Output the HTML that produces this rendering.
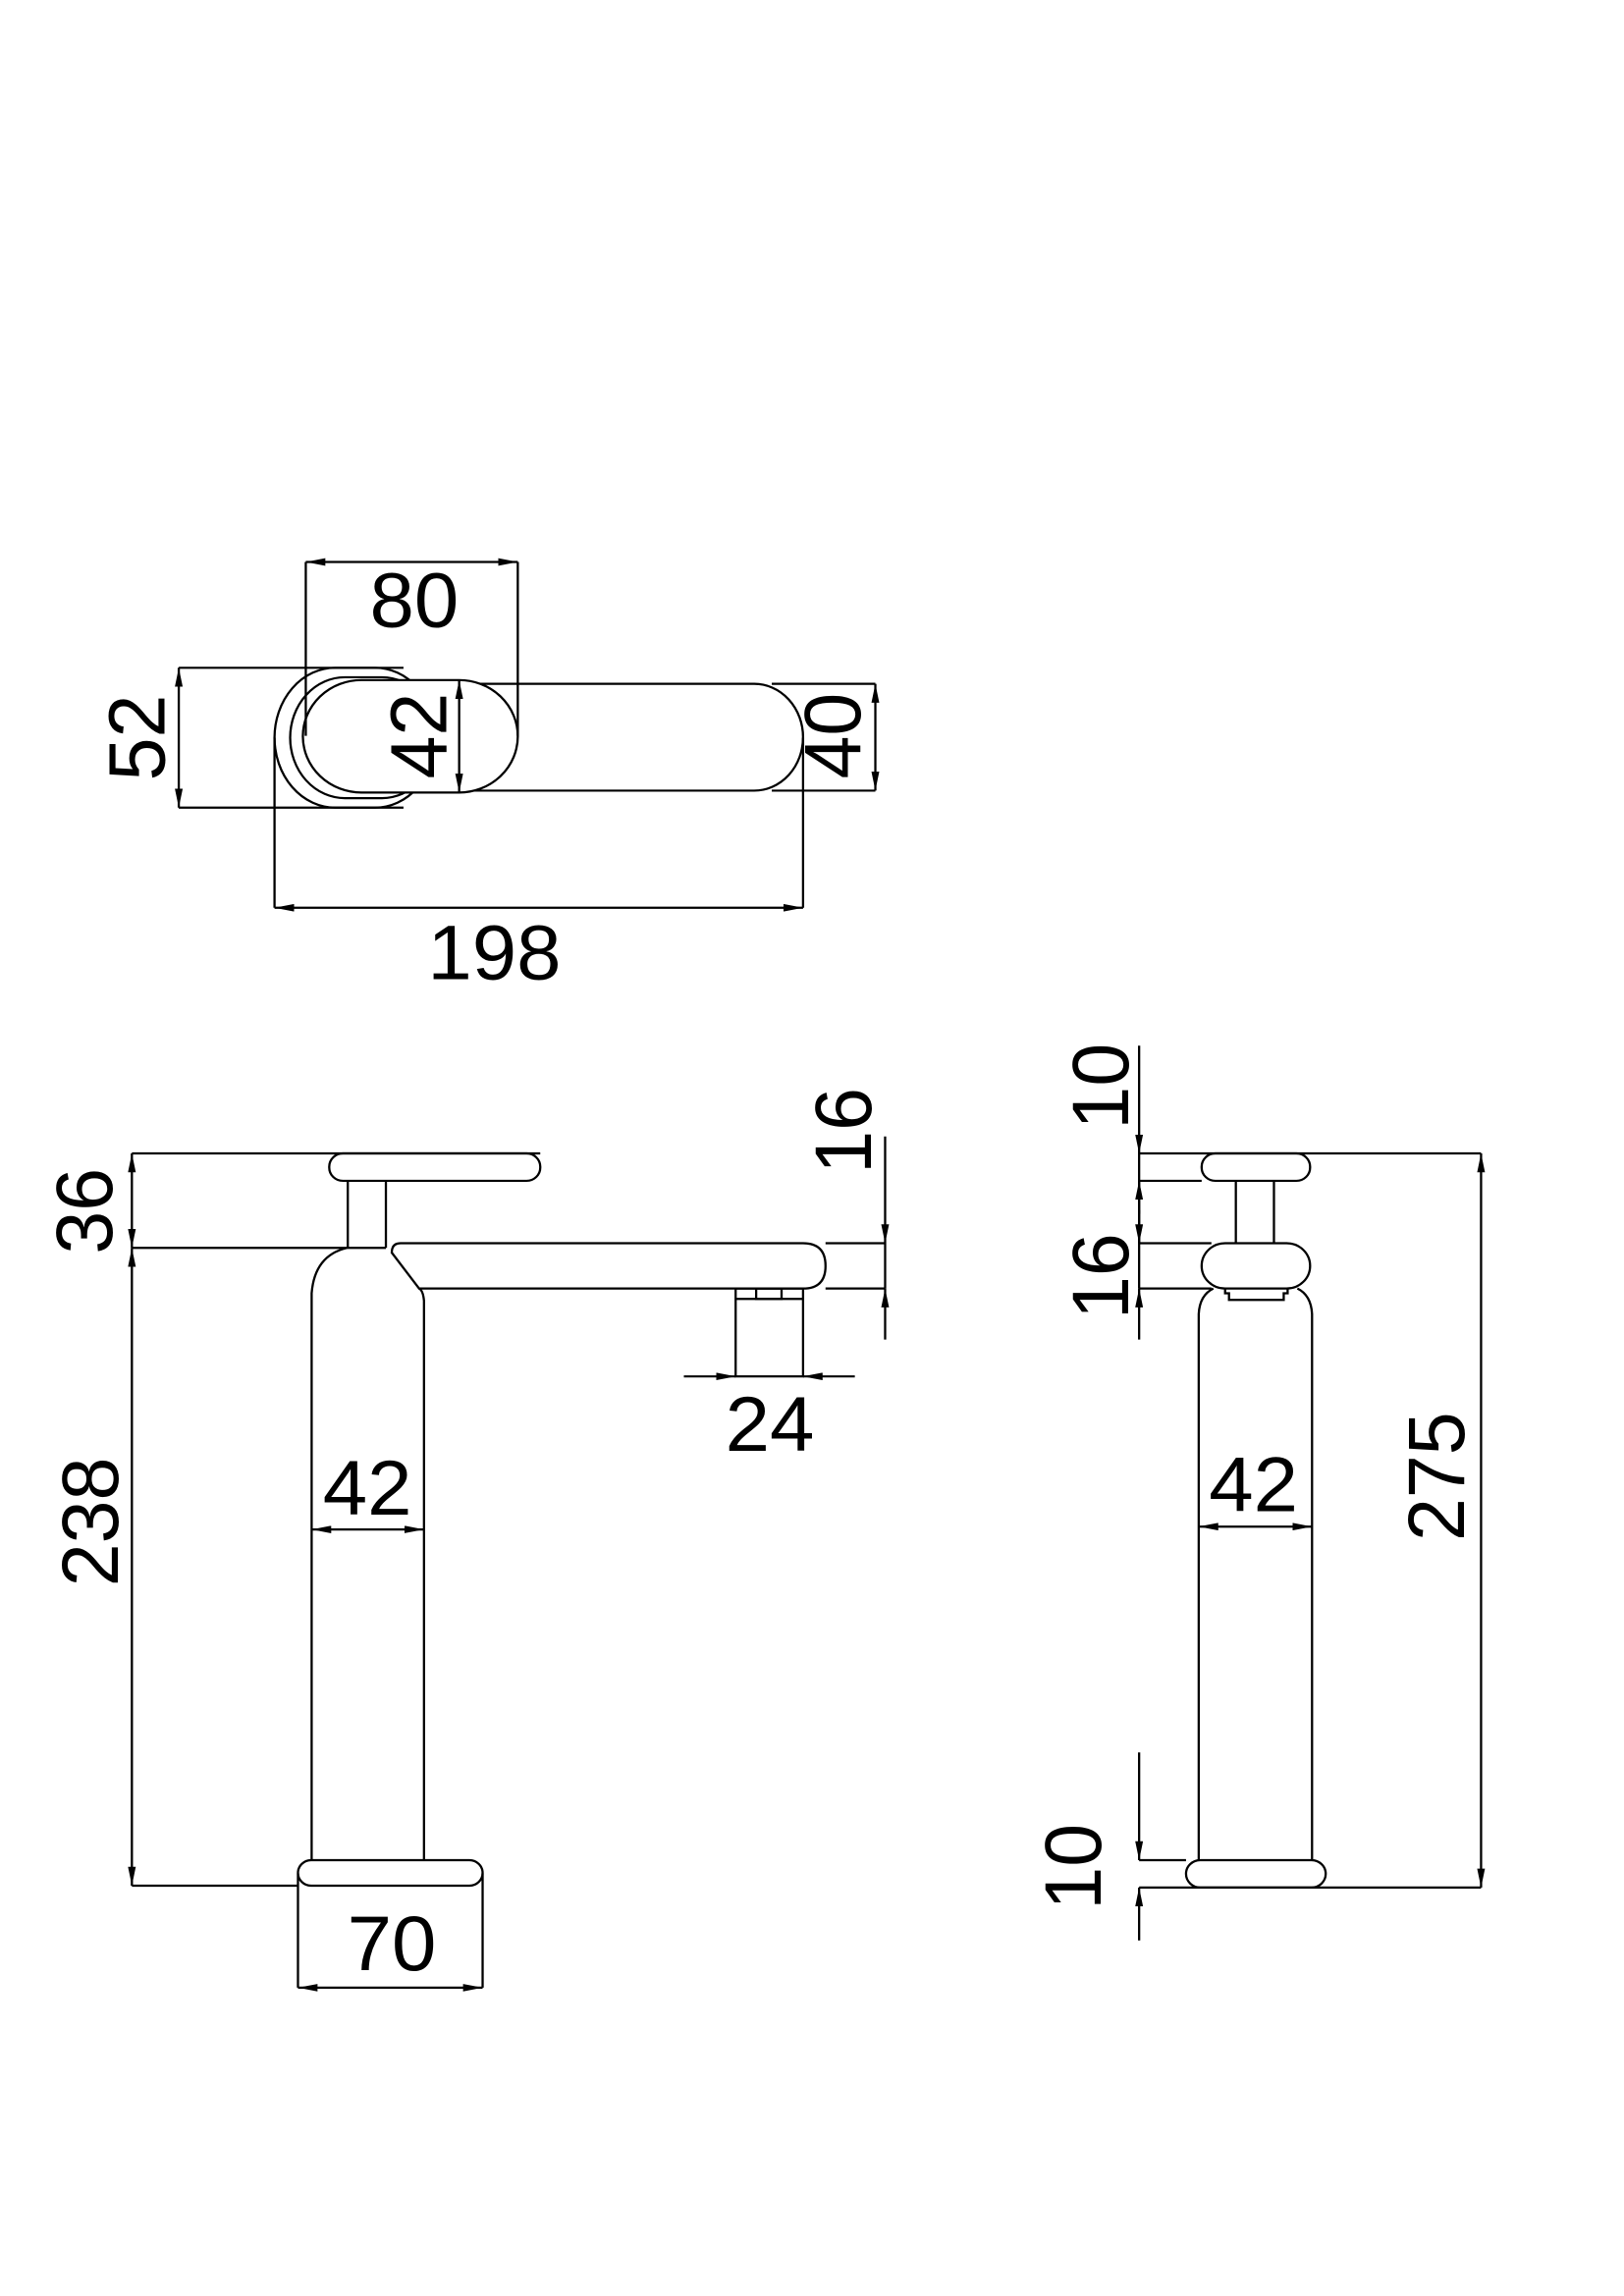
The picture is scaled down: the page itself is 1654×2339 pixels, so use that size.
<!DOCTYPE html>
<html><head><meta charset="utf-8"><style>html,body{margin:0;padding:0;background:#fff}svg{display:block}</style></head>
<body>
<svg width="1654" height="2339" viewBox="0 0 1654 2339" xmlns="http://www.w3.org/2000/svg">
<defs>
<marker id="a" viewBox="0 0 20 8" refX="20" refY="4" markerWidth="20" markerHeight="8" markerUnits="userSpaceOnUse" orient="auto-start-reverse"><path d="M0,0 L20,4 L0,8 Z" fill="#000"/></marker>
</defs>
<g transform="matrix(0.995,0,0,0.9625,0,18.1)">
<g fill="none" stroke="#000" stroke-width="2.3">
<rect x="281" y="688" width="165" height="148" rx="62" ry="74" fill="#fff"/>
<rect x="297" y="698" width="150" height="128" rx="56" ry="64" fill="#fff"/>
<rect x="420" y="705" width="402" height="113" rx="50" ry="56.5" fill="#fff"/>
<rect x="310" y="701" width="220" height="119" rx="60" ry="59.5" fill="#fff"/>
<line x1="313" y1="576" x2="313" y2="760"/><line x1="530" y1="576" x2="530" y2="760"/>
<line x1="313" y1="576" x2="530" y2="576" marker-start="url(#a)" marker-end="url(#a)"/>
<line x1="183" y1="688" x2="413" y2="688"/><line x1="183" y1="836" x2="413" y2="836"/>
<line x1="183" y1="688" x2="183" y2="836" marker-start="url(#a)" marker-end="url(#a)"/>
<line x1="470" y1="701" x2="470" y2="820" marker-start="url(#a)" marker-end="url(#a)"/>
<line x1="790" y1="705" x2="896" y2="705"/><line x1="790" y1="818" x2="896" y2="818"/>
<line x1="896" y1="705" x2="896" y2="818" marker-start="url(#a)" marker-end="url(#a)"/>
<line x1="281" y1="762" x2="281" y2="942"/><line x1="822" y1="762" x2="822" y2="942"/>
<line x1="281" y1="942" x2="822" y2="942" marker-start="url(#a)" marker-end="url(#a)"/>

<rect x="337" y="1202" width="216" height="29" rx="14" fill="#fff"/>
<line x1="356" y1="1231" x2="356" y2="1302"/><line x1="395" y1="1231" x2="395" y2="1302"/>
<path d="M355,1302 Q322,1310 319,1350 L319,1950"/>
<path d="M434,1950 L434,1358 Q433,1347 429,1345"/>
<path d="M410,1297 L822,1297 Q845,1297 845,1321 Q845,1345 822,1345 L429,1345 L401,1307 Q401,1297 410,1297 Z" fill="#fff"/>
<line x1="845" y1="1297" x2="906" y2="1297"/><line x1="845" y1="1345" x2="906" y2="1345"/>
<rect x="753" y="1345" width="69" height="93"/>
<line x1="753" y1="1356" x2="822" y2="1356"/>
<rect x="774" y="1345" width="26" height="11"/>
<rect x="305" y="1950" width="189" height="27" rx="13.5" fill="#fff"/>
<line x1="135" y1="1202" x2="553" y2="1202"/>
<line x1="135" y1="1302" x2="395" y2="1302"/>
<line x1="135" y1="1977" x2="305" y2="1977"/>
<line x1="135" y1="1202" x2="135" y2="1302" marker-start="url(#a)" marker-end="url(#a)"/>
<line x1="135" y1="1302" x2="135" y2="1977" marker-start="url(#a)" marker-end="url(#a)"/>
<line x1="906" y1="1184" x2="906" y2="1297" marker-end="url(#a)"/>
<line x1="906" y1="1399" x2="906" y2="1345" marker-end="url(#a)"/>
<line x1="906" y1="1297" x2="906" y2="1345"/>
<line x1="700" y1="1438" x2="753" y2="1438" marker-end="url(#a)"/>
<line x1="875" y1="1438" x2="822" y2="1438" marker-end="url(#a)"/>
<line x1="319" y1="1600" x2="434" y2="1600" marker-start="url(#a)" marker-end="url(#a)"/>
<line x1="305" y1="1964" x2="305" y2="2085"/><line x1="494" y1="1964" x2="494" y2="2085"/>
<line x1="305" y1="2085" x2="494" y2="2085" marker-start="url(#a)" marker-end="url(#a)"/>

<rect x="1230" y="1202" width="111" height="29" rx="14" fill="#fff"/>
<line x1="1265" y1="1231" x2="1265" y2="1297"/><line x1="1304" y1="1231" x2="1304" y2="1297"/>
<path d="M1227,1950 L1227,1372 Q1228,1352 1242,1345"/>
<path d="M1343,1950 L1343,1372 Q1342,1352 1328,1345"/>
<rect x="1230" y="1297" width="111" height="48" rx="24" fill="#fff"/>
<path d="M1254,1345 L1254,1350 L1258,1350 L1258,1357 L1314,1357 L1314,1350 L1318,1350 L1318,1345"/>
<rect x="1214" y="1950" width="143" height="29" rx="14.5" fill="#fff"/>
<line x1="1166" y1="1202" x2="1516" y2="1202"/>
<line x1="1166" y1="1231" x2="1230" y2="1231"/>
<line x1="1166" y1="1297" x2="1240" y2="1297"/>
<line x1="1166" y1="1345" x2="1240" y2="1345"/>
<line x1="1166" y1="1950" x2="1214" y2="1950"/>
<line x1="1166" y1="1979" x2="1516" y2="1979"/>
<line x1="1166" y1="1088" x2="1166" y2="1202" marker-end="url(#a)"/>
<line x1="1166" y1="1266" x2="1166" y2="1231" marker-end="url(#a)"/>
<line x1="1166" y1="1262" x2="1166" y2="1297" marker-end="url(#a)"/>
<line x1="1166" y1="1399" x2="1166" y2="1345" marker-end="url(#a)"/>
<line x1="1166" y1="1202" x2="1166" y2="1345"/>
<line x1="1166" y1="1836" x2="1166" y2="1950" marker-end="url(#a)"/>
<line x1="1166" y1="2035" x2="1166" y2="1979" marker-end="url(#a)"/>
<line x1="1227" y1="1597" x2="1343" y2="1597" marker-start="url(#a)" marker-end="url(#a)"/>
<line x1="1516" y1="1202" x2="1516" y2="1979" marker-start="url(#a)" marker-end="url(#a)"/>
</g>

<g font-family="Liberation Sans, sans-serif" font-size="82" fill="#000" text-anchor="middle" dominant-baseline="central">
<text x="424" y="617">80</text>
<text x="506" y="990">198</text>
<text transform="translate(141,762) rotate(-90)">52</text>
<text transform="translate(429,760) rotate(-90)">42</text>
<text transform="translate(853,760) rotate(-90)">40</text>
<text transform="translate(87,1263) rotate(-90)">36</text>
<text transform="translate(93,1592) rotate(-90)">238</text>
<text transform="translate(864,1178) rotate(-90)">16</text>
<text x="788" y="1489">24</text>
<text x="376" y="1557">42</text>
<text x="401" y="2039">70</text>
<text transform="translate(1127,1131) rotate(-90)">10</text>
<text transform="translate(1127,1332) rotate(-90)">16</text>
<text transform="translate(1099,1957) rotate(-90)">10</text>
<text x="1283" y="1553">42</text>
<text transform="translate(1471,1544) rotate(-90)">275</text>
</g>
</g>
</svg>
</body></html>
